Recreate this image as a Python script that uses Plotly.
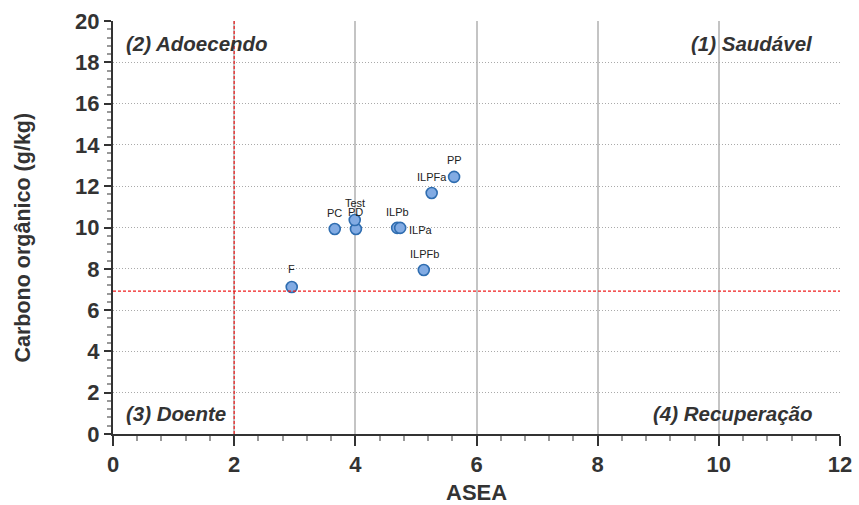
import plotly.graph_objects as go

# Management systems: aggregate stability (ASEA) vs soil organic carbon
systems = ["F", "PC", "PD", "Test", "ILPb", "ILPa", "ILPFb", "ILPFa", "PP"]
asea = [2.95, 3.66, 4.01, 3.99, 4.69, 4.74, 5.13, 5.26, 5.63]
carbon = [7.12, 9.93, 9.93, 10.36, 9.98, 9.98, 7.94, 11.67, 12.45]

# label offsets in pixels (right, up)
label_offsets = {
    "F": (0, 18), "PC": (0, 16), "PD": (0, 17), "Test": (0, 17),
    "ILPb": (0, 16), "ILPa": (21, -2), "ILPFb": (1, 16),
    "ILPFa": (0, 16), "PP": (0, 17),
}

x_threshold = 2.0
y_threshold = 6.92

x_ticks = [0, 2, 4, 6, 8, 10, 12]
y_ticks = [0, 2, 4, 6, 8, 10, 12, 14, 16, 18, 20]

font_family = "Liberation Sans"
dark = "#333333"

fig = go.Figure()

fig.add_trace(go.Scatter(
    x=asea, y=carbon, mode="markers",
    marker=dict(size=11, color="#82ABE3", line=dict(color="#2F6DB0", width=1.6)),
    hoverinfo="text", text=systems, showlegend=False,
))

annotations = []
for name, xv, yv in zip(systems, asea, carbon):
    dx, dy = label_offsets[name]
    annotations.append(dict(
        x=xv, y=yv, xref="x", yref="y", text=name, showarrow=False,
        xshift=dx, yshift=dy, font=dict(size=11, color="#222222", family=font_family),
    ))

quadrants = [
    ("(2) Adoecendo", 0.0, 1.0, "left", 11, -22),
    ("(1) Saudável", 1.0, 1.0, "right", -25, -22),
    ("(3) Doente", 0.0, 0.0, "left", 11, 21),
    ("(4) Recuperação", 1.0, 0.0, "right", -25, 21),
]
for text, xp, yp, xa, xs, ys in quadrants:
    annotations.append(dict(
        x=xp, y=yp, xref="paper", yref="paper", text=f"<b><i>{text}</i></b>",
        showarrow=False, xanchor=xa, yanchor="middle", xshift=xs, yshift=ys,
        font=dict(size=20.5, color=dark, family=font_family),
    ))

# axis titles
annotations.append(dict(
    x=0.5, y=0, xref="paper", yref="paper", text="<b>ASEA</b>", showarrow=False,
    xanchor="center", yanchor="middle", yshift=-58,
    font=dict(size=22, color=dark, family=font_family),
))
annotations.append(dict(
    x=0, y=0.5, xref="paper", yref="paper", text="<b>Carbono orgânico (g/kg)</b>",
    showarrow=False, textangle=-90, xanchor="center", yanchor="middle",
    xshift=-91, yshift=-10,
    font=dict(size=21.5, color=dark, family=font_family),
))

shapes = [
    dict(type="line", xref="x", yref="paper", x0=x_threshold, x1=x_threshold, y0=0, y1=1,
         line=dict(color="#F01E1E", width=1.2, dash="3px,2px")),
    dict(type="line", xref="paper", yref="y", x0=0, x1=1, y0=y_threshold, y1=y_threshold,
         line=dict(color="#F01E1E", width=1.2, dash="3px,2px")),
]

fig.update_layout(
    width=859, height=505, autosize=False,
    margin=dict(l=113, r=19, t=21, b=71, autoexpand=False),
    paper_bgcolor="white", plot_bgcolor="white",
    annotations=annotations, shapes=shapes,
    font=dict(family=font_family, color=dark),
    xaxis=dict(
        range=[0, 12], tickvals=x_ticks, ticktext=[f"<b>{v}</b>" for v in x_ticks],
        tickfont=dict(size=22, color=dark), showgrid=True, gridcolor="#C4C4C4",
        gridwidth=1.5, griddash="solid", automargin=False,
        showline=True, linecolor=dark, linewidth=2, ticks="outside", ticklen=10,
        tickwidth=2, tickcolor=dark, zeroline=False,
        minor=dict(dtick=0.4, tick0=0, ticks="outside", ticklen=5, tickcolor="#999999",
                   tickwidth=1.5, showgrid=False),
    ),
    yaxis=dict(
        range=[0, 20], tickvals=y_ticks, ticktext=[f"<b>{v}</b>" for v in y_ticks],
        tickfont=dict(size=22, color=dark), showgrid=True, gridcolor="#AAAAAA",
        gridwidth=1, griddash="1px,2px", automargin=False,
        showline=True, linecolor=dark, linewidth=2, ticks="outside", ticklen=7,
        tickwidth=2, tickcolor=dark, zeroline=False,
        minor=dict(dtick=0.4, tick0=0, ticks="outside", ticklen=4, tickcolor="#999999",
                   tickwidth=1.5, showgrid=False),
    ),
)

fig.write_html("out.html")
